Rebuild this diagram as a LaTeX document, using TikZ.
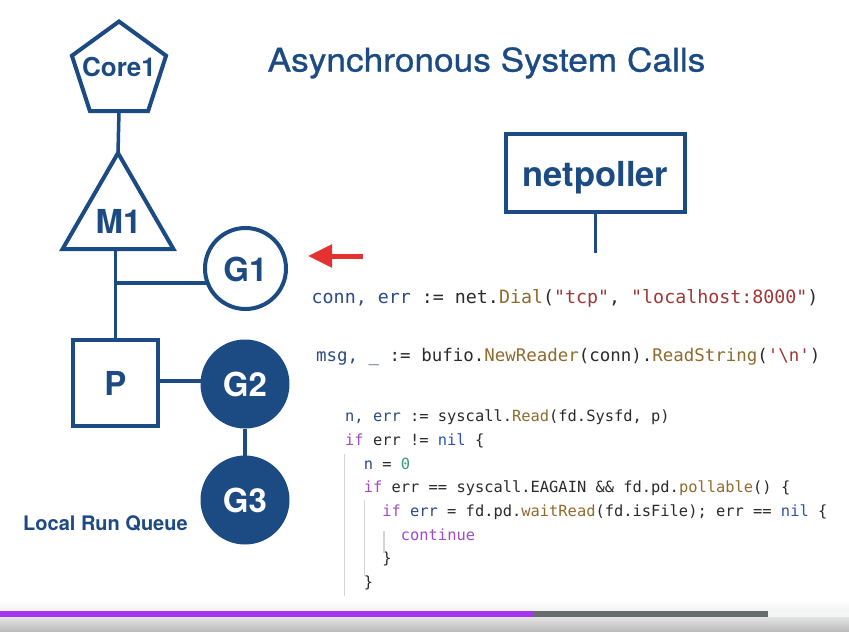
\documentclass[tikz,border=0pt]{standalone}
\usepackage{fontspec}
\setmainfont{TeX Gyre Heros}
\newfontfamily\codefont{DejaVu Sans Mono}
\newfontfamily\headfont{TeX Gyre Heros}[FakeBold=0.8]
\usetikzlibrary{shapes.geometric,arrows.meta}

\definecolor{goblue}{HTML}{1C4B84}
\definecolor{arrowred}{HTML}{E23232}
\definecolor{codeplain}{HTML}{2A2A2A}
\definecolor{codevar}{HTML}{2B4A86}
\definecolor{codekw}{HTML}{A24BC4}
\definecolor{codefn}{HTML}{8F6B2D}
\definecolor{codestr}{HTML}{A13636}
\definecolor{codenum}{HTML}{3D9A7C}
\definecolor{codenil}{HTML}{2F52B0}
\definecolor{guidegray}{HTML}{D4D4D4}
\definecolor{barpurple}{HTML}{A335EE}
\definecolor{bargray}{HTML}{676C6E}
\definecolor{barlight}{HTML}{F4F6F5}

% syntax colouring helpers
\newcommand\kvar[1]{\textcolor{codevar}{#1}}
\newcommand\kkw[1]{\textcolor{codekw}{#1}}
\newcommand\kfn[1]{\textcolor{codefn}{#1}}
\newcommand\kstr[1]{\textcolor{codestr}{#1}}
\newcommand\knum[1]{\textcolor{codenum}{#1}}
\newcommand\knil[1]{\textcolor{codenil}{#1}}
\newcommand\kdq{\symbol{34}}
\newcommand\ksq{\symbol{39}}

\tikzset{
  outline/.style={draw=goblue, line width=4pt, inner sep=0pt, outer sep=0pt},
  gfilled/.style={circle, fill=goblue, minimum size=89pt, inner sep=0pt, outer sep=0pt},
  biglabel/.style={text=goblue, font=\bfseries\fontsize{33}{33}\selectfont, anchor=base, inner sep=0pt},
  whitelabel/.style={biglabel, text=white},
  link/.style={draw=goblue, line width=3.5pt},
  codeline/.style={anchor=base west, inner sep=0pt, text=codeplain},
  smallcode/.style={codeline, font=\codefont\fontsize{15.4}{15.4}\selectfont},
  guide/.style={draw=guidegray, line width=1.2pt},
}

\begin{document}
\begin{tikzpicture}[x=1pt,y=-1pt]
\useasboundingbox (0,0) rectangle (849,632);
\fill[white] (0,0) rectangle (849,632);

% title
\node[anchor=base, text=goblue, font=\headfont\fontsize{32.5}{32.5}\selectfont, inner sep=0pt]
  (title) at (486.5,71.5) {\scalebox{1.085}[1]{Asynchronous System Calls}};

% scheduler shapes
\node[outline, regular polygon, regular polygon sides=5, minimum size=99pt] (core) at (119,71) {};
\node[biglabel, font=\bfseries\fontsize{26}{26}\selectfont] (coretext) at (119,76.5) {Core1};

\node[outline, regular polygon, regular polygon sides=3, minimum size=128pt] (m1) at (118,217) {};
\node[biglabel] (m1text) at (118.5,233) {M1};

\node[outline, circle, minimum size=81pt] (g1) at (245.5,268.5) {};
\node[biglabel] (g1text) at (245.5,281) {G1};

\node[outline, rectangle, minimum width=85pt, minimum height=86pt] (p) at (115.5,383) {};
\node[biglabel] (ptext) at (115.5,395) {P};

\node[gfilled] (g2) at (245,384) {};
\node[whitelabel] (g2text) at (245,396.5) {G2};

\node[gfilled] (g3) at (245,500) {};
\node[whitelabel] (g3text) at (245,512.5) {G3};

\node[anchor=base west, inner sep=0pt, text=goblue, font=\bfseries\fontsize{20}{20}\selectfont]
  (lrq) at (23,530) {Local Run Queue};

% connectors
\draw[link] (core.side 3) -- (m1.corner 1);
\draw[link] (p.north) -- (p.north |- m1.side 2);
\draw[link] (p.north |- g1.201) -- (g1.201);
\draw[link] (p.east) ++(0,-2) -- (g2.west |- 0,381);
\draw[link] (g2.south) -- (g3.north);

% netpoller
\node[outline, rectangle, minimum width=179pt, minimum height=78pt] (np) at (595.5,173) {};
\node[biglabel, font=\bfseries\fontsize{34.5}{34.5}\selectfont] (nptext) at (595.5,186) {netpoller};
\coordinate (npend) at (595.5,253);
\draw[link] (np.south) -- (npend);

% red pointer
\coordinate (arrtail) at (363,256);
\coordinate (arrhead) at (308,256);
\draw[arrowred, line width=5pt, -{Triangle[length=24pt,width=22pt]}] (arrtail) -- (arrhead);

% code
\node[codeline, font=\codefont\fontsize{18.3}{18.3}\selectfont] (c1) at (311.5,303) {\kvar{conn, err} := net.\kfn{Dial}(\kstr{\kdq tcp\kdq}, \kstr{\kdq localhost:8000\kdq})};
\node[codeline, font=\codefont\fontsize{17.45}{17.45}\selectfont] (c2) at (316,361) {\kvar{msg, \_} := bufio.\kfn{NewReader}(conn).\kfn{ReadString}(\kstr{\ksq\textbackslash n\ksq})};

\node[smallcode] (c3) at (345,421.7) {\kvar{n, err} := syscall.\kfn{Read}(fd.Sysfd, p)};
\node[smallcode] (c4) at (345,445.4) {\kkw{if} err != \knil{nil} \{};
\node[smallcode] (c5) at (363.6,469.1) {\kvar{n} = \knum{0}};
\node[smallcode] (c6) at (363.6,492.7) {\kkw{if} err == syscall.EAGAIN \&\& fd.pd.\kfn{pollable}() \{};
\node[smallcode] (c7) at (382.1,516.4) {\kkw{if} \kvar{err} = fd.pd.\kfn{waitRead}(fd.isFile); err == \knil{nil} \{};
\node[smallcode] (c8) at (400.7,540.1) {\kkw{continue}};
\node[smallcode] (c9) at (382.1,563.8) {\}};
\node[smallcode] (c10) at (363.6,587.4) {\}};

% indentation guides
\draw[guide] (344.5,454) -- (344.5,596);
\draw[guide] (364.5,500) -- (364.5,576);
\draw[guide] (384,531) -- (384,553);

% player progress bar
\shade[top color=white, bottom color=black!5] (0,600) rectangle (849,611);
\fill[barpurple] (0,611) rectangle (533,617);
\fill[bargray] (533,611) rectangle (768,617);
\fill[barlight] (768,611) rectangle (849,617);
\shade[top color=black!11, bottom color=black!27] (0,617) rectangle (849,632);
\end{tikzpicture}
\end{document}
